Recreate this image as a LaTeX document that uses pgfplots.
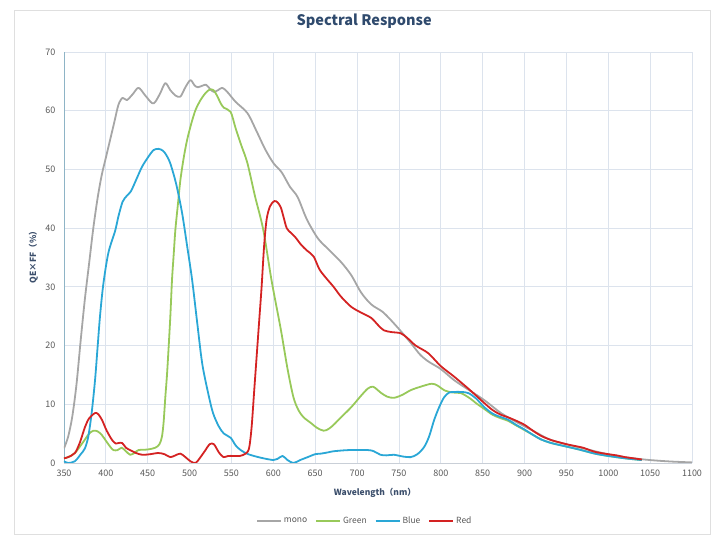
\documentclass[border=0pt]{standalone}
\usepackage{fontspec}
\usepackage{pgfplots}
\pgfplotsset{compat=1.18}
\setmainfont{Noto Sans CJK SC}
\newfontfamily\cjk{Noto Sans CJK SC}

\definecolor{cmono}{HTML}{A6A6A6}
\definecolor{cgreen}{HTML}{98C95A}
\definecolor{cblue}{HTML}{2AA7D6}
\definecolor{cred}{HTML}{D42222}
\definecolor{gridc}{HTML}{DCE3ED}
\definecolor{titlec}{HTML}{2F4A6D}
\definecolor{labelc}{HTML}{3B4E6B}
\definecolor{tickc}{HTML}{595959}

\begin{document}
\begin{tikzpicture}
\begin{axis}[
    scale only axis,
    width=628pt, height=411pt,
    xmin=350, xmax=1100, ymin=0, ymax=70,
    xtick distance=50, ytick distance=10,
    grid=major,
    major grid style={gridc, line width=0.8pt},
    axis x line*=bottom, axis y line*=left,
    x axis line style={gridc!80!gray, line width=0.8pt, -},
    y axis line style={gridc!60!cblue!70!gray, line width=0.8pt, -},
    major tick length=0pt,
    /pgf/number format/assume math mode=true,
    /pgf/number format/1000 sep={},
    tick label style={font=\cjk\fontsize{9}{10}\selectfont, text=tickc},
    xticklabel style={yshift=-3pt},
    yticklabel style={xshift=-5pt},
    title={Spectral Response},
    title style={font=\cjk\bfseries\fontsize{14.5}{16}\selectfont, text=titlec,
        at={(axis description cs:0.478,1.061)}, anchor=center},
    xlabel={Wavelength（nm）},
    ylabel={QE×FF（\%）},
    label style={font=\cjk\bfseries\fontsize{8.5}{10}\selectfont, text=labelc},
    xlabel style={at={(axis description cs:0.495,-0.073)}, anchor=center},
    ylabel style={at={(axis description cs:-0.049,0.506)}, anchor=center},
    legend columns=4,
    legend style={draw=none, fill=none, font=\cjk\fontsize{8.5}{10}\selectfont,
        text=tickc, at={(axis description cs:0.479,-0.141)}, anchor=center,
        /tikz/every even column/.append style={column sep=6pt}},
    legend image code/.code={\draw[#1] (0pt,0pt) -- (24pt,0pt);},
    every axis plot/.append style={line width=1.8pt, smooth, tension=0.5, line join=round},
]
% mono
\addplot[cmono] coordinates {
(350,2.5)(355,4.5)(360,8)(365,13.5)(370,21)(375,28)(380,34)(385,40)(390,45)(395,49)
(400,52)(405,55)(410,58)(415,61)(420,62.2)(425,61.8)(432,62.8)(439,63.9)(447,62.6)
(455,61.3)(459,61.5)(465,63)(471,64.7)(477,63.5)(483,62.6)(489,62.4)(495,64)(501,65.2)
(506,64.3)(510,64)(516,64.3)(520,64.4)(525,63.6)(529,63.2)(534,63.5)(539,63.9)(545,63.2)
(555,61.5)(569,59.6)(580,56.5)(590,53.5)(600,51.1)(610,49.5)(620,47)(629,45.3)(640,41.5)
(653,38.3)(665,36.5)(681,34.2)(693,32)(705,29)(717,27)(730,25.8)(740,24.4)(752,22.5)
(765,20.3)(775,18.5)(785,17.3)(800,16)(816,14.1)(835,12.3)(852,10.7)(872,8.5)(890,7)
(910,5.5)(930,4)(950,3.2)(970,2.5)(990,1.8)(1010,1.2)(1030,0.8)(1050,0.5)(1075,0.25)(1100,0.1)
};
% Green
\addplot[cgreen] coordinates {
(350,0.8)(355,1)(363,1.7)(370,3)(375,4)(380,5)(385,5.5)(390,5.4)(395,4.8)(400,3.8)
(405,2.8)(409,2.2)(414,2.2)(419,2.6)(424,2)(429,1.4)(434,1.7)(439,2.2)(450,2.3)(459,2.6)
(464,3.2)(467,4.5)(469,7)(471,11.2)(473,15)(475,19.8)(477,25)(479,31.2)(481,35.5)(483,39.7)
(486,44)(489,48.2)(493,52)(497,55)(502,57.8)(507,60.1)(513,61.8)(519,63)(524,63.6)(528.5,63.5)
(533,62.5)(537,61.3)(541,60.5)(549,59.8)(555,57)(562,54)(569,51.1)(578,45.5)(588,39.7)
(598,31)(609,22.7)(617,16)(624,11.2)(630,9)(636,7.8)(645,6.8)(652,6)(660,5.5)(666,5.8)
(672,6.5)(681,7.8)(693,9.5)(705,11.5)(713,12.7)(719,13)(724,12.5)(729,11.9)(736,11.3)
(744,11.1)(754,11.6)(764,12.4)(776,13)(789,13.5)(796,13.2)(804,12.4)(814,12)(824,11.9)
(835,11)(842,10.2)(852,9.2)(862,8.2)(872,7.6)(880,7.2)(890,6.4)(900,5.6)(910,4.8)(920,4)
(932,3.4)(950,2.8)(965,2.3)(984,1.6)(1000,1.2)(1020,0.8)(1040,0.5)
};
% Blue
\addplot[cblue] coordinates {
(350,0.3)(355,0)(363,0.3)(370,1.5)(375,2.5)(379,4.5)(383,8.5)(387,14)(390,19.5)(393,25)
(397,30.5)(403,35.8)(411,39.5)(415,42)(420,44.5)(425,45.5)(430,46.3)(437,48.5)(443,50.4)
(450,52)(457,53.3)(463,53.5)(468,53.2)(472,52.5)(477,51)(484,47.5)(491,42.6)(497,37)
(503,31.2)(509,24)(515,17)(522,12)(528,8.5)(535,6.2)(541,5)(549,4.3)(555,3)(561,2.2)
(570,1.5)(585,0.9)(600,0.5)(605,0.7)(611,1.2)(617,0.5)(624,0)(632,0.5)(641,1)(650,1.5)
(657,1.6)(665,1.8)(672,2.0)(690,2.2)(713,2.2)(720,2)(728,1.4)(735,1.3)(744,1.4)(755,1.1)
(764,1.0)(772,1.5)(780,2.7)(786,4.5)(792,7.3)(798,9.5)(804,11.2)(810,12)(816,12.1)(825,12.1)
(833,11.9)(842,11)(852,9.5)(862,8.4)(872,7.8)(880,7.4)(890,6.5)(900,5.7)(910,4.8)(920,4)
(932,3.4)(950,2.8)(965,2.3)(984,1.6)(1000,1.2)(1020,0.8)(1040,0.5)
};
% Red
\addplot[cred] coordinates {
(350,0.8)(355,1)(363,1.7)(369,3.5)(375,6.1)(380,7.6)(387,8.5)(391,8.3)(395.5,7.3)(401,5.5)
(407.5,3.9)(412,3.3)(415,3.4)(419.5,3.4)(424,2.6)(429,2.2)(436,1.7)(443.5,1.4)(453,1.5)
(462.6,1.7)(470,1.5)(477,1.0)(483,1.3)(489,1.6)(495,1.0)(501,0.3)(507,0)(512,0.8)(518,2)
(524,3.2)(529,3.2)(535,1.8)(540.5,1.0)(546,1.2)(552.5,1.2)(560,1.2)(567,1.6)(571,2.5)
(574,6)(577,12)(580,18)(583,24)(586,30)(589,37)(592,41.5)(596,43.7)(601,44.6)(605,44.4)
(609,43.5)(612,42)(616,40)(621,39.2)(626,38.5)(633,37.2)(640,36.2)(648,35.2)(655,33)
(663,31.5)(672,30)(681,28.3)(693,26.6)(705,25.6)(717,24.7)(725,23.5)(732,22.6)(741,22.3)
(752,22.1)(760,21.3)(770,20)(785,18.7)(800,16.5)(816,14.7)(835,12.4)(852,10.2)(862,9)
(872,8.2)(880,7.8)(890,7.2)(900,6.5)(910,5.5)(920,4.6)(932,3.9)(942,3.5)(950,3.2)(960,2.9)
(970,2.6)(984,1.9)(1000,1.5)(1010,1.3)(1020,1.0)(1030,0.8)(1040,0.6)
};
\legend{mono, Green, Blue, Red}
\end{axis}
\draw[gray!25, line width=0.8pt] (-50pt,-71pt) rectangle (646pt,453pt);
\pgfresetboundingbox
\useasboundingbox (-64pt,-72pt) rectangle (654pt,463pt);
\end{tikzpicture}
\end{document}
